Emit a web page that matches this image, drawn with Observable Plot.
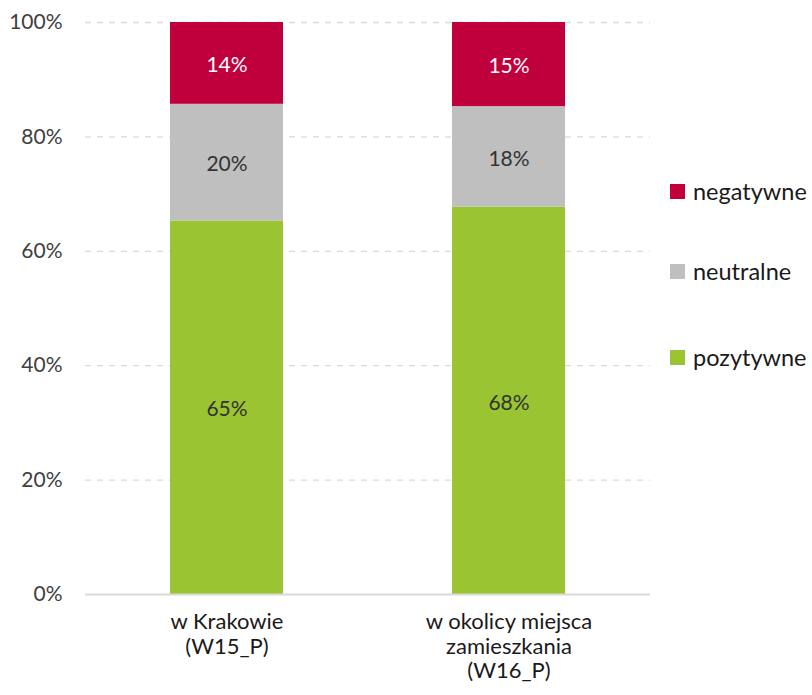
<!DOCTYPE html>
<html>
<head>
<meta charset="utf-8">
<script src="https://cdn.jsdelivr.net/npm/d3@7"></script>
<script src="https://cdn.jsdelivr.net/npm/@observablehq/plot@0.6"></script>
<style>
  body { margin: 0; background: #fff; }
  #wrap { position: relative; width: 812px; height: 695px; font-family: Lato, "Open Sans", sans-serif; }
  #legend { position: absolute; left: 670px; top: 0; }
  .li { position: absolute; left: 0; display: flex; align-items: center; white-space: nowrap; font-size: 23.5px; color: #1a1a1a; }
  .sw { width: 15px; height: 15px; margin-right: 8px; }
</style>
</head>
<body>
<div id="wrap"><div id="legend"></div></div>
<script>
const categories = ["w Krakowie\n(W15_P)", "w okolicy miejsca\nzamieszkania\n(W16_P)"];
const seriesNames = ["pozytywne", "neutralne", "negatywne"];
const pozytywne = [65.3, 67.7];
const neutralne = [20.4, 17.6];
const negatywne = [14.3, 14.7];
const seriesColors = ["#9AC431", "#BFBFBF", "#C0003C"];
const labelColors = ["#333333", "#333333", "#ffffff"];
const yTicks = [0, 20, 40, 60, 80, 100];

const seriesValues = [pozytywne, neutralne, negatywne];
const data = [];
seriesNames.forEach((s, si) => {
  categories.forEach((c, ci) => {
    data.push({cat: c, series: s, value: seriesValues[si][ci], lc: labelColors[si]});
  });
});

const chart = Plot.plot({
  width: 812,
  height: 695,
  marginLeft: 85,
  marginRight: 162,
  marginTop: 22,
  marginBottom: 101,
  style: {fontFamily: 'Lato, "Open Sans", sans-serif', fontSize: "21px", color: "#404040", background: "white"},
  x: {domain: categories, paddingInner: 0.6, paddingOuter: 0.3, label: null},
  y: {domain: [0, 100], ticks: yTicks, label: null},
  color: {domain: seriesNames, range: seriesColors},
  marks: [
    Plot.ruleY(yTicks.filter(d => d > 0), {stroke: "#D9D9D9", strokeWidth: 1.3, strokeDasharray: "6,6"}),
    Plot.barY(data, {x: "cat", y: "value", fill: "series"}),
    Plot.ruleY([0], {stroke: "#D9D9D9", strokeWidth: 2}),
    Plot.text(data, Plot.stackY({x: "cat", y: "value", text: d => Math.round(d.value) + "%", fill: "lc", fontSize: 21, dy: 2})),
    Plot.axisY({ticks: yTicks, tickFormat: d => d + "%", tickSize: 0, tickPadding: 23, fontSize: 21, fill: "#404040"}),
    Plot.axisX({tickSize: 0, tickPadding: 17, fontSize: 22, lineHeight: 1.12, fill: "#1a1a1a"})
  ]
});
document.getElementById("wrap").prepend(chart);

const legend = document.getElementById("legend");
const legendY = [358, 272, 192];
seriesNames.forEach((s, i) => {
  const el = document.createElement("div");
  el.className = "li";
  el.style.top = (legendY[i] - 15) + "px";
  el.innerHTML = `<span class="sw" style="background:${seriesColors[i]}"></span><span>${s}</span>`;
  legend.appendChild(el);
});
</script>
</body>
</html>
